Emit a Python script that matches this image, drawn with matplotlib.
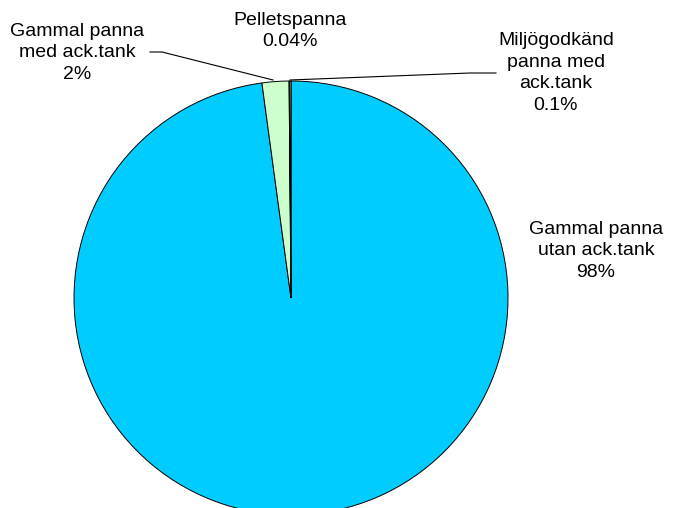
import matplotlib
matplotlib.use("Agg")
import matplotlib.pyplot as plt

plt.rcParams['font.family'] = ['Liberation Sans', 'DejaVu Sans']

labels = ['Gammal panna\nutan ack.tank', 'Gammal panna\nmed ack.tank',
          'Pelletspanna', 'Miljögodkänd\npanna med\nack.tank']
values = [97.86, 2.0, 0.04, 0.1]
pct_text = ['98%', '2%', '0.04%', '0.1%']
colors = ['#00CCFF', '#CCFFCC', '#9999FF', '#FFFF99']

W, H = 676, 508
cx, cy, r = 291, 298, 217

fig = plt.figure(figsize=(W / 100, H / 100), dpi=100)
ax = fig.add_axes([(cx - r) / W, (H - cy - r) / H, 2 * r / W, 2 * r / H])

ax.pie(values, colors=colors, startangle=90, counterclock=False, radius=1,
       wedgeprops=dict(edgecolor='black', linewidth=0.7))
ax.set_xlim(-1, 1)
ax.set_ylim(-1, 1)
ax.set_aspect('equal')
ax.axis('off')


def to_data(px, py):
    return (px - cx) / r, (cy - py) / r


# label positions in pixels
label_pos = [(596, 251), (77, 53), (290, 31), (556, 73)]
for lab, pct, (px, py) in zip(labels, pct_text, label_pos):
    x, y = to_data(px, py)
    ax.text(x, y, lab + '\n' + pct, ha='center', va='center', fontsize=14,
            linespacing=1.38, clip_on=False)

# leader lines
for pts in [[(150, 52), (162, 52), (273, 80)],
            [(496, 73), (470, 73), (290, 80)]]:
    xs, ys = zip(*[to_data(px, py) for px, py in pts])
    ax.plot(xs, ys, color='black', linewidth=0.8, clip_on=False)

fig.savefig('out.png', dpi=100)
